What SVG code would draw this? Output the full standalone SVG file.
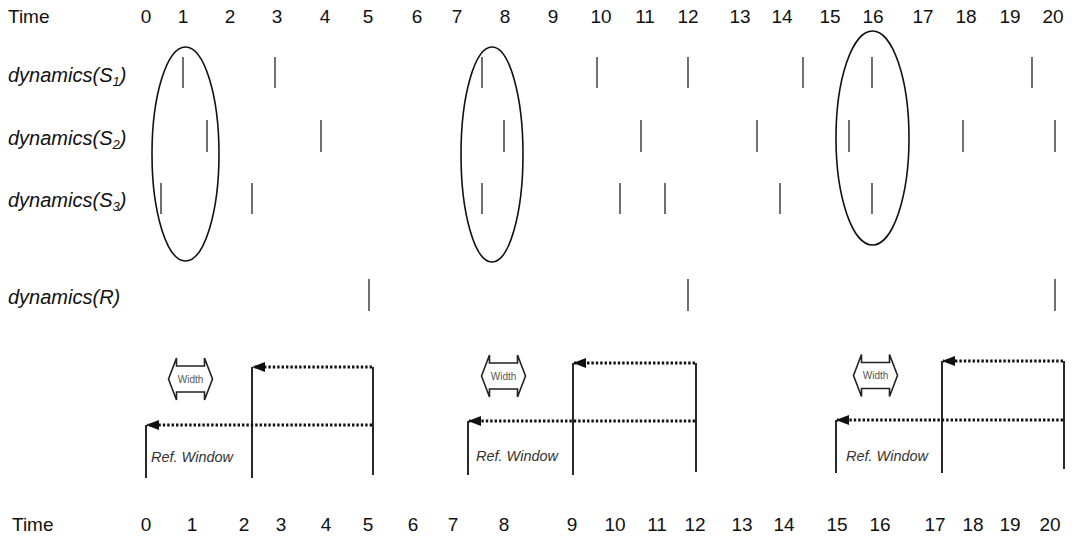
<svg xmlns="http://www.w3.org/2000/svg" width="1078" height="542" viewBox="0 0 1078 542">
  <style>
    .axis { font-family: "Liberation Sans", Arial, sans-serif; font-size: 19px; fill: #111; }
    .num { text-anchor: middle; }
    .lbl { font-family: "Liberation Sans", Arial, sans-serif; font-size: 20px; font-style: italic; fill: #111; }
    .sub { font-size: 13px; }
    .tick { stroke: #222; stroke-width: 1.3; }
    .oval { fill: none; stroke: #111; stroke-width: 1.6; }
    .bar { stroke: #111; stroke-width: 1.8; }
    .dots { stroke: #111; stroke-width: 3; stroke-dasharray: 2.4 2; fill: none; }
    .wbox { fill: #fff; stroke: #222; stroke-width: 1.6; stroke-linejoin: miter; }
    .wtxt { font-family: "Liberation Sans", Arial, sans-serif; font-size: 10px; fill: #555; text-anchor: middle; }
    .ref { font-family: "Liberation Sans", Arial, sans-serif; font-size: 14.5px; font-style: italic; fill: #333; }
  </style>
  <defs>
    <marker id="head" viewBox="0 0 13 10" refX="12" refY="5" markerWidth="13" markerHeight="10" markerUnits="userSpaceOnUse" orient="auto">
      <path d="M0 0 L13 5 L0 10 Z" fill="#111"/>
    </marker>
    <polygon id="width-shape" points="-22,0 -14,-21 -14,-13 14,-13 14,-21 22,0 14,21 14,13 -14,13 -14,21"/>
  </defs>

  <rect width="1078" height="542" fill="#fff"/>

  <!-- top time axis -->
  <g id="axis-top">
    <text class="axis" x="8" y="23">Time</text>
    <g class="axis num">
      <text x="146" y="23">0</text><text x="183" y="23">1</text><text x="230" y="23">2</text>
      <text x="277" y="23">3</text><text x="325" y="23">4</text><text x="368" y="23">5</text>
      <text x="417" y="23">6</text><text x="457" y="23">7</text><text x="505" y="23">8</text>
      <text x="553" y="23">9</text><text x="601" y="23">10</text><text x="645" y="23">11</text>
      <text x="688" y="23">12</text><text x="740" y="23">13</text><text x="782" y="23">14</text>
      <text x="830" y="23">15</text><text x="873" y="23">16</text><text x="923" y="23">17</text>
      <text x="966" y="23">18</text><text x="1010" y="23">19</text><text x="1053" y="23">20</text>
    </g>
  </g>

  <!-- row labels -->
  <g id="labels">
    <text class="lbl" x="8" y="82">dynamics(S<tspan class="sub" dy="4">1</tspan><tspan dy="-4">)</tspan></text>
    <text class="lbl" x="8" y="145">dynamics(S<tspan class="sub" dy="4">2</tspan><tspan dy="-4">)</tspan></text>
    <text class="lbl" x="8" y="207">dynamics(S<tspan class="sub" dy="4">3</tspan><tspan dy="-4">)</tspan></text>
    <text class="lbl" x="8" y="304">dynamics(R)</text>
  </g>

  <!-- event ticks -->
  <g id="ticks-s1" class="tick">
    <line x1="183" y1="57" x2="183" y2="88"/><line x1="275" y1="57" x2="275" y2="88"/>
    <line x1="482" y1="57" x2="482" y2="88"/><line x1="597" y1="57" x2="597" y2="88"/>
    <line x1="688" y1="57" x2="688" y2="88"/><line x1="803" y1="57" x2="803" y2="88"/>
    <line x1="872" y1="57" x2="872" y2="88"/><line x1="1032" y1="57" x2="1032" y2="88"/>
  </g>
  <g id="ticks-s2" class="tick">
    <line x1="207" y1="120" x2="207" y2="152"/><line x1="321" y1="120" x2="321" y2="152"/>
    <line x1="504" y1="120" x2="504" y2="152"/><line x1="641" y1="120" x2="641" y2="152"/>
    <line x1="757" y1="120" x2="757" y2="152"/><line x1="849" y1="120" x2="849" y2="152"/>
    <line x1="963" y1="120" x2="963" y2="152"/><line x1="1055" y1="120" x2="1055" y2="152"/>
  </g>
  <g id="ticks-s3" class="tick">
    <line x1="161" y1="183" x2="161" y2="214"/><line x1="252" y1="183" x2="252" y2="214"/>
    <line x1="482" y1="183" x2="482" y2="214"/><line x1="620" y1="183" x2="620" y2="214"/>
    <line x1="665" y1="183" x2="665" y2="214"/><line x1="780" y1="183" x2="780" y2="214"/>
    <line x1="872" y1="183" x2="872" y2="214"/>
  </g>
  <g id="ticks-r" class="tick">
    <line x1="369" y1="279" x2="369" y2="311"/><line x1="688" y1="279" x2="688" y2="311"/>
    <line x1="1055" y1="279" x2="1055" y2="311"/>
  </g>

  <!-- grouping ovals -->
  <g id="oval-1"><ellipse class="oval" cx="185.5" cy="154" rx="33.5" ry="107"/></g>
  <g id="oval-2"><ellipse class="oval" cx="492" cy="154.5" rx="31" ry="107.5"/></g>
  <g id="oval-3"><ellipse class="oval" cx="872.5" cy="138" rx="36.5" ry="107"/></g>

  <!-- width indicators -->
  <g id="width-1">
    <use href="#width-shape" class="wbox" x="190.5" y="379"/>
    <text class="wtxt" x="190.5" y="382.5">Width</text>
  </g>
  <g id="width-2">
    <use href="#width-shape" class="wbox" x="503.5" y="376"/>
    <text class="wtxt" x="503.5" y="379.5">Width</text>
  </g>
  <g id="width-3">
    <use href="#width-shape" class="wbox" x="875.5" y="375.5"/>
    <text class="wtxt" x="875.5" y="379">Width</text>
  </g>

  <!-- reference window bars and look-back arrows -->
  <g id="connectors">
    <line class="bar" x1="252" y1="367" x2="252" y2="478"/>
    <line class="bar" x1="373" y1="367" x2="373" y2="475"/>
    <line class="bar" x1="146" y1="425" x2="146" y2="478"/>
    <line class="dots" x1="372" y1="367" x2="253" y2="367" marker-end="url(#head)"/>
    <line class="dots" x1="372" y1="425" x2="147" y2="425" marker-end="url(#head)"/>

    <line class="bar" x1="573" y1="363" x2="573" y2="475"/>
    <line class="bar" x1="696" y1="363" x2="696" y2="472"/>
    <line class="bar" x1="468" y1="421" x2="468" y2="475"/>
    <line class="dots" x1="695" y1="363" x2="574" y2="363" marker-end="url(#head)"/>
    <line class="dots" x1="695" y1="421" x2="469" y2="421" marker-end="url(#head)"/>

    <line class="bar" x1="942" y1="361" x2="942" y2="473"/>
    <line class="bar" x1="1064" y1="361" x2="1064" y2="469"/>
    <line class="bar" x1="836" y1="420" x2="836" y2="473"/>
    <line class="dots" x1="1063" y1="361" x2="943" y2="361" marker-end="url(#head)"/>
    <line class="dots" x1="1063" y1="420" x2="837" y2="420" marker-end="url(#head)"/>
  </g>

  <g id="ref-labels">
    <text class="ref" x="151" y="462">Ref. Window</text>
    <text class="ref" x="476" y="461">Ref. Window</text>
    <text class="ref" x="846" y="461">Ref. Window</text>
  </g>

  <!-- bottom time axis -->
  <g id="axis-bottom">
    <text class="axis" x="12" y="531">Time</text>
    <g class="axis num">
      <text x="146" y="531">0</text><text x="192" y="531">1</text><text x="244" y="531">2</text>
      <text x="281" y="531">3</text><text x="326" y="531">4</text><text x="368" y="531">5</text>
      <text x="413" y="531">6</text><text x="453" y="531">7</text><text x="504" y="531">8</text>
      <text x="572" y="531">9</text><text x="615" y="531">10</text><text x="657" y="531">11</text>
      <text x="695" y="531">12</text><text x="742" y="531">13</text><text x="784" y="531">14</text>
      <text x="837" y="531">15</text><text x="880" y="531">16</text><text x="935" y="531">17</text>
      <text x="973" y="531">18</text><text x="1010" y="531">19</text><text x="1050" y="531">20</text>
    </g>
  </g>
</svg>
